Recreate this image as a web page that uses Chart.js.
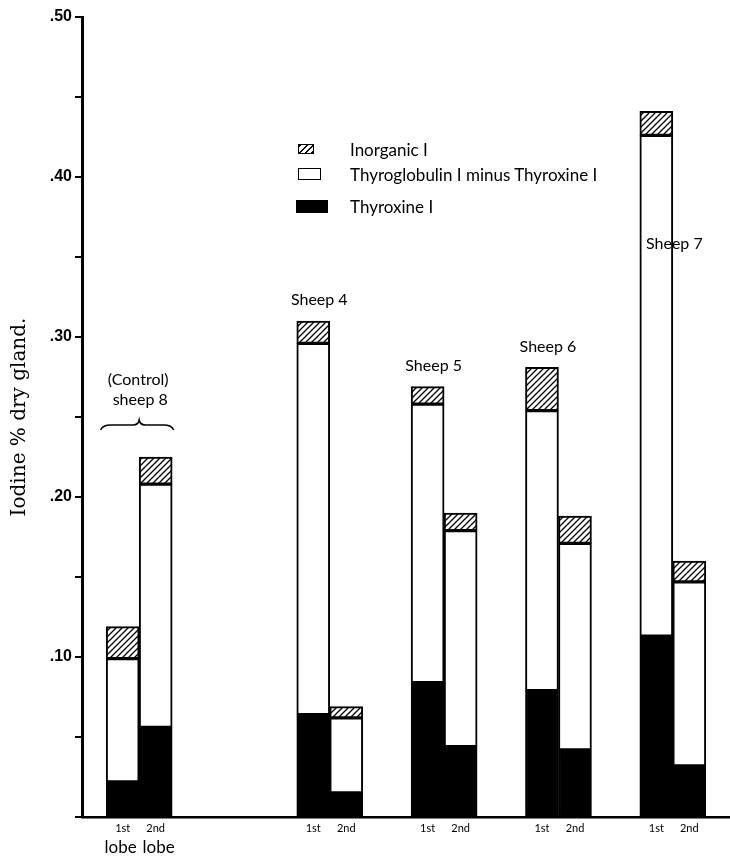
<!DOCTYPE html>
<html>
<head>
<meta charset="utf-8">
<script src="https://cdn.jsdelivr.net/npm/chart.js@4.4.1/dist/chart.umd.min.js"></script>
<style>
    html, body { margin: 0; padding: 0; background: #fff; }
    #wrap { position: relative; width: 730px; height: 859px; }
    #legend { position: absolute; left: 0; top: 0; font-family: Lato, "Noto Sans", sans-serif; font-size: 17px; color: #000; }
    .row { position: absolute; left: 296px; height: 22px; display: flex; align-items: center; white-space: nowrap; }
    .sw { box-sizing: border-box; border: 1.5px solid #000; }
    .txt { position: absolute; left: 54px; }
</style>
</head>
<body>
<div id="wrap">
    <canvas id="grafico" width="730" height="859"></canvas>
    <div id="legend"></div>
</div>
<script>
// categorias del eje x (los huecos vacios separan los grupos)
const xCategories = ["", "Control sheep 8", "", "", "", "", "Sheep 4", "", "", "Sheep 5", "", "", "Sheep 6", "", "", "Sheep 7", ""];
const sheepLabels = [["(Control)", "sheep 8"], ["Sheep 4"], ["Sheep 5"], ["Sheep 6"], ["Sheep 7"]];
const lobeLabels = ["1st", "2nd"];
const lobeWord = "lobe";

// Thyroxine I (negro)
const thyroxine1st = [0.022, 0.064, 0.084, 0.079, 0.113];
const thyroxine2nd = [0.056, 0.015, 0.044, 0.042, 0.032];
// Thyroglobulin I minus Thyroxine I (blanco)
const thyroglob1st = [0.077, 0.232, 0.174, 0.175, 0.313];
const thyroglob2nd = [0.152, 0.047, 0.135, 0.129, 0.115];
// Inorganic I (rayado)
const inorganic1st = [0.020, 0.014, 0.011, 0.027, 0.015];
const inorganic2nd = [0.017, 0.007, 0.011, 0.017, 0.013];

const legendItems = ["Inorganic I", "Thyroglobulin I minus Thyroxine I", "Thyroxine I"];

function spread(values) {
    let i = 0;
    return xCategories.map(c => c ? values[i++] : null);
}

function hatch() {
    const c = document.createElement('canvas');
    c.width = 6; c.height = 6;
    const g = c.getContext('2d');
    g.fillStyle = '#fff';
    g.fillRect(0, 0, 6, 6);
    g.strokeStyle = '#000';
    g.lineWidth = 1.3;
    g.beginPath();
    g.moveTo(-1, 7); g.lineTo(7, -1);
    g.moveTo(-1, 1); g.lineTo(1, -1);
    g.moveTo(5, 7); g.lineTo(7, 5);
    g.stroke();
    return g.createPattern(c, 'repeat');
}

const rayado = hatch();

function serie(label, values, lobe, color) {
    return {
        label: label,
        data: spread(values),
        stack: lobe,
        backgroundColor: color,
        borderColor: '#000',
        borderWidth: 2,
        borderSkipped: false,
        barThickness: 33
    };
}

const labelPlugin = {
    id: 'labels',
    afterDraw(chart) {
        const ctx = chart.ctx;
        const yScale = chart.scales.y;
        const top1 = chart.getDatasetMeta(2);
        const top2 = chart.getDatasetMeta(5);
        const bottom = chart.chartArea.bottom;
        ctx.save();
        ctx.fillStyle = '#000';
        ctx.strokeStyle = '#000';
        ctx.textAlign = 'center';
        ctx.textBaseline = 'middle';
        let g = 0;
        xCategories.forEach((c, i) => {
            if (!c) return;
            const a = top1.data[i], b = top2.data[i];
            // etiquetas de lobulo
            ctx.font = '11px Lato, sans-serif';
            ctx.fillText(lobeLabels[0], a.x, bottom + 11);
            ctx.fillText(lobeLabels[1], b.x, bottom + 11);
            const lines = sheepLabels[g];
            ctx.font = '16px Lato, sans-serif';
            if (g === 0) {
                ctx.font = '17px Lato, sans-serif';
                ctx.fillText(lobeWord, a.x - 2, bottom + 31);
                ctx.fillText(lobeWord, b.x + 3, bottom + 31);
                ctx.font = '16px Lato, sans-serif';
                const mid = (a.x + b.x) / 2;
                const ty = Math.min(a.y, b.y);
                ctx.fillText(lines[0], mid - 1, ty - 77);
                ctx.fillText(lines[1], mid + 1, ty - 57);
                // llave
                const x0 = a.x - 22, x1 = b.x + 18, yb = ty - 32;
                ctx.lineWidth = 1.5;
                ctx.beginPath();
                ctx.moveTo(x0, yb + 5);
                ctx.quadraticCurveTo(x0 + 2, yb, x0 + 10, yb);
                ctx.lineTo(mid - 6, yb);
                ctx.quadraticCurveTo(mid - 1, yb, mid, yb - 5);
                ctx.quadraticCurveTo(mid + 1, yb, mid + 6, yb);
                ctx.lineTo(x1 - 10, yb);
                ctx.quadraticCurveTo(x1 - 2, yb, x1, yb + 5);
                ctx.stroke();
            } else if (g === sheepLabels.length - 1) {
                ctx.fillText(lines[0], a.x + 18, yScale.getPixelForValue(0.358));
            } else {
                ctx.fillText(lines[0], a.x + 6, a.y - 21);
            }
            g++;
        });
        ctx.restore();
    }
};

const chart = new Chart(document.getElementById('grafico'), {
    type: 'bar',
    data: {
        labels: xCategories,
        datasets: [
            serie(legendItems[2], thyroxine1st, '1st', '#000'),
            serie(legendItems[1], thyroglob1st, '1st', '#fff'),
            serie(legendItems[0], inorganic1st, '1st', rayado),
            serie(legendItems[2], thyroxine2nd, '2nd', '#000'),
            serie(legendItems[1], thyroglob2nd, '2nd', '#fff'),
            serie(legendItems[0], inorganic2nd, '2nd', rayado)
        ]
    },
    options: {
        responsive: false,
        animation: false,
        layout: { padding: { top: 17, right: 0, left: 0, bottom: 0 } },
        plugins: {
            legend: { display: false },
            tooltip: { enabled: false }
        },
        scales: {
            x: {
                grid: { display: false },
                ticks: { display: false },
                border: { color: '#000', width: 2.5 },
                afterFit: s => { s.height = 42; }
            },
            y: {
                stacked: true,
                min: 0,
                max: 0.5,
                ticks: {
                    stepSize: 0.05,
                    color: '#000',
                    padding: 3,
                    font: { family: 'Liberation Sans', weight: 'bold', size: 16 },
                    callback: v => {
                        const r = Math.round(v * 100);
                        return (r > 0 && r % 10 === 0) ? '.' + r : '';
                    }
                },
                grid: { drawOnChartArea: false, color: '#000', tickLength: 7, lineWidth: 2 },
                border: { color: '#000', width: 3 },
                title: {
                    display: true,
                    text: 'Iodine % dry gland.',
                    color: '#000',
                    padding: { top: 8, bottom: 0 },
                    font: { family: 'DejaVu Serif', size: 20 }
                },
                afterFit: s => { s.width = 82; }
            }
        }
    },
    plugins: [labelPlugin]
});

// leyenda en html
const legend = document.getElementById('legend');
const swatches = [
    { top: 138, w: 16, h: 10, bg: 'repeating-linear-gradient(-45deg, #000 0 1.5px, #fff 1.5px 4.5px)', left: 298 },
    { top: 163, w: 23, h: 12, bg: '#fff', left: 298 },
    { top: 195, w: 32, h: 13, bg: '#000', left: 296 }
];
legendItems.forEach((txt, i) => {
    const s = swatches[i];
    const row = document.createElement('div');
    row.className = 'row';
    row.style.top = s.top + 'px';
    row.style.left = s.left + 'px';
    const sw = document.createElement('div');
    sw.className = 'sw';
    sw.style.width = s.w + 'px';
    sw.style.height = s.h + 'px';
    sw.style.background = s.bg;
    const t = document.createElement('span');
    t.className = 'txt';
    t.style.left = (350 - s.left) + 'px';
    t.textContent = txt;
    row.appendChild(sw);
    row.appendChild(t);
    legend.appendChild(row);
});
</script>
</body>
</html>
